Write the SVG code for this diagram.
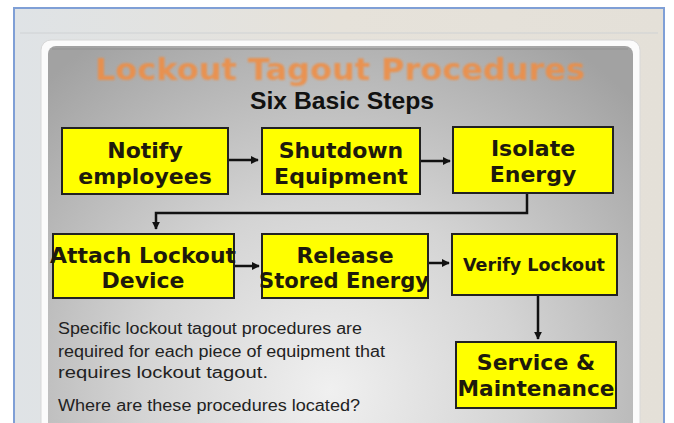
<svg xmlns="http://www.w3.org/2000/svg" width="674" height="423" viewBox="0 0 674 423">
<defs>
<radialGradient id="slideBg" cx="330" cy="390" r="420" gradientUnits="userSpaceOnUse">
<stop offset="0" stop-color="#f0f0f0"/>
<stop offset="0.45" stop-color="#d4d4d4"/>
<stop offset="1" stop-color="#a2a2a2"/>
</radialGradient>
<linearGradient id="frameBg" x1="0" y1="0" x2="1" y2="0">
<stop offset="0" stop-color="#dfe3e6"/>
<stop offset="0.5" stop-color="#e6e2da"/>
<stop offset="1" stop-color="#e4e0d8"/>
</linearGradient>
<filter id="soft" x="-5%" y="-20%" width="110%" height="140%">
<feGaussianBlur stdDeviation="0.9"/>
</filter>
<marker id="arr" viewBox="0 0 10 10" refX="9" refY="5" markerWidth="3.2" markerHeight="3.2" orient="auto" markerUnits="strokeWidth">
<path d="M0,0 L10,5 L0,10 z" fill="#111"/>
</marker>
</defs>
<style>
.box{fill:#ffff00;stroke:#222;stroke-width:2}
.bt{font-family:"DejaVu Sans",Verdana,sans-serif;font-weight:bold;font-size:22px;fill:#1e1a0c;text-anchor:middle}
.body{font-family:"Liberation Sans",Arial,sans-serif;font-size:16px;fill:#222}
.conn{fill:none;stroke:#111;stroke-width:2.5}
</style>
<rect width="674" height="423" fill="#ffffff"/>
<rect x="14" y="8" width="650" height="420" fill="url(#frameBg)" stroke="#7f9fd6" stroke-width="2"/>
<line x1="20" y1="33" x2="658" y2="33" stroke="#cfd2d4" stroke-width="1"/>
<rect x="41" y="40" width="599" height="400" rx="10" fill="#fbfbfb" stroke="#d8d8d8" stroke-width="1"/>
<rect x="48" y="46" width="585" height="390" rx="8" fill="url(#slideBg)"/>
<line x1="52" y1="49" x2="628" y2="49" stroke="#9a9a9a" stroke-width="2"/>

<g id="title">
<text x="340" y="80" text-anchor="middle" textLength="490" lengthAdjust="spacingAndGlyphs" font-family="DejaVu Sans,Verdana,sans-serif" font-weight="bold" font-size="30" fill="#f28c40" opacity="0.85" filter="url(#soft)">Lockout Tagout Procedures</text>
<text x="342" y="109" text-anchor="middle" textLength="184" lengthAdjust="spacingAndGlyphs" font-family="Liberation Sans,Arial,sans-serif" font-weight="bold" font-size="23" fill="#111">Six Basic Steps</text>
</g>

<g id="connectors">
<line class="conn" x1="229" y1="160" x2="258" y2="160" marker-end="url(#arr)"/>
<line class="conn" x1="421" y1="161" x2="450" y2="161" marker-end="url(#arr)"/>
<polyline class="conn" points="527,194 527,213 156,213 156,229" marker-end="url(#arr)"/>
<line class="conn" x1="234" y1="266" x2="259" y2="266" marker-end="url(#arr)"/>
<line class="conn" x1="429" y1="263" x2="449" y2="263" marker-end="url(#arr)"/>
<line class="conn" x1="538" y1="295" x2="538" y2="339" marker-end="url(#arr)"/>
</g>

<g id="notify">
<rect class="box" x="62" y="128" width="166" height="66"/>
<text class="bt" x="145" y="158">Notify</text>
<text class="bt" x="145" y="184">employees</text>
</g>
<g id="shutdown">
<rect class="box" x="262" y="128" width="158" height="66"/>
<text class="bt" x="341" y="158">Shutdown</text>
<text class="bt" x="341" y="184">Equipment</text>
</g>
<g id="isolate">
<rect class="box" x="453" y="127" width="160" height="66"/>
<text class="bt" x="533" y="156">Isolate</text>
<text class="bt" x="533" y="182">Energy</text>
</g>
<g id="attach">
<rect class="box" x="53" y="234" width="181" height="64"/>
<text class="bt" x="143" y="263" textLength="186" lengthAdjust="spacingAndGlyphs">Attach Lockout</text>
<text class="bt" x="143" y="288">Device</text>
</g>
<g id="release">
<rect class="box" x="262" y="234" width="166" height="64"/>
<text class="bt" x="345" y="263">Release</text>
<text class="bt" x="344" y="288" textLength="170" lengthAdjust="spacingAndGlyphs">Stored Energy</text>
</g>
<g id="verify">
<rect class="box" x="452" y="234" width="165" height="61"/>
<text class="bt" x="534" y="271" style="font-size:17px" textLength="142" lengthAdjust="spacingAndGlyphs">Verify Lockout</text>
</g>
<g id="service">
<rect class="box" x="456" y="342" width="160" height="66"/>
<text class="bt" x="536" y="370">Service &amp;</text>
<text class="bt" x="536" y="396" textLength="157" lengthAdjust="spacingAndGlyphs">Maintenance</text>
</g>

<g id="note">
<text class="body" x="58" y="334" textLength="304" lengthAdjust="spacingAndGlyphs">Specific lockout tagout procedures are</text>
<text class="body" x="58" y="357" textLength="327" lengthAdjust="spacingAndGlyphs">required for each piece of equipment that</text>
<text class="body" x="58" y="378" textLength="210" lengthAdjust="spacingAndGlyphs">requires lockout tagout.</text>
<text class="body" x="58" y="411" textLength="302" lengthAdjust="spacingAndGlyphs">Where are these procedures located?</text>
</g>
</svg>
